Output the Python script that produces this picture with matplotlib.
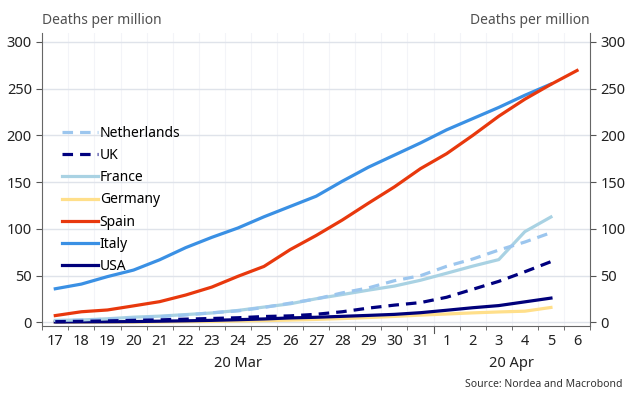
import matplotlib.pyplot as plt
import matplotlib.ticker as ticker
import matplotlib.transforms as transforms
import numpy as np

plt.rcParams['font.family'] = ['Noto Sans', 'DejaVu Sans']

days = ["17", "18", "19", "20", "21", "22", "23", "24", "25", "26", "27",
        "28", "29", "30", "31", "1", "2", "3", "4", "5", "6"]
months = ["20 Mar", "20 Apr"]

netherlands = [1.4, 2.5, 3.4, 4.4, 6.1, 7.9, 10.3, 12.3, 16, 20.6, 25.1,
               31.6, 36.9, 44.6, 50, 60, 67.8, 77.4, 86, 96]
uk = [0.8, 1.1, 1.6, 2.2, 2.7, 3.5, 4.2, 5.0, 6.3, 7.0, 8.7,
      11.4, 15.3, 18.5, 21.2, 26.9, 35.4, 43.9, 54.2, 65]
france = [2.2, 2.6, 3.9, 5.6, 6.7, 8.4, 10.1, 12.8, 16.4, 19.9, 25.3,
          29.8, 34.5, 38.9, 45.1, 52.6, 60.2, 67.2, 97.1, 112.8]
germany = [0.1, 0.2, 0.3, 0.3, 0.5, 0.8, 1.0, 1.5, 1.9, 2.5, 3.2,
           4.1, 5.2, 6.4, 7.8, 9.0, 10.2, 11.2, 12, 16]
spain = [7.3, 11.4, 13.3, 17.7, 22.2, 29.3, 37.8, 49.3, 59.9, 77.8, 93,
         109.5, 127.5, 145, 164.5, 180.5, 200, 220.6, 238.8, 254.7, 269.5]
italy = [36, 41, 49, 56, 67, 80, 91, 101, 113, 124, 135,
         151, 166, 179, 192, 206, 218, 230, 243, 255]
usa = [0.5, 0.6, 0.7, 0.9, 1.3, 1.7, 2.2, 2.9, 3.7, 4.8, 5.5,
       6.5, 7.5, 8.6, 10.4, 13, 15.7, 18, 22, 26]

fig = plt.figure(figsize=(6.4, 3.98), dpi=100)
ax = fig.add_axes([0.066, 0.181, 0.856, 0.737])

dash = (0, (3.3, 2.2))
lw = 2.3
x = np.arange(len(days))

lines = {}
lines['Germany'], = ax.plot(x[:len(germany)], germany, color='#ffdf8a', lw=lw)
lines['USA'], = ax.plot(x[:len(usa)], usa, color='#00007a', lw=lw)
lines['France'], = ax.plot(x[:len(france)], france, color='#a9d2e3', lw=lw)
lines['Netherlands'], = ax.plot(x[:len(netherlands)], netherlands,
                                color='#9cc6ee', lw=lw, linestyle=dash)
lines['UK'], = ax.plot(x[:len(uk)], uk, color='#00007f', lw=lw, linestyle=dash)
lines['Italy'], = ax.plot(x[:len(italy)], italy, color='#3a90e4', lw=lw)
lines['Spain'], = ax.plot(x[:len(spain)], spain, color='#e8380d', lw=lw)

order = ['Netherlands', 'UK', 'France', 'Germany', 'Spain', 'Italy', 'USA']
ax.legend([lines[k] for k in order], order, loc='upper left',
          bbox_to_anchor=(0.011, 0.73), frameon=False, fontsize=10,
          handlelength=2.6, handletextpad=0.1, labelspacing=0.52,
          borderaxespad=0.6)

ax.set_xlim(-0.5, len(days) - 0.5)
ax.set_ylim(-3.8, 310)
ax.yaxis.set_major_locator(ticker.MultipleLocator(50))
ax.grid(axis='y', color='#dfe3ea', lw=1)
ax.set_axisbelow(True)

ax.set_xticks(x)
ax.set_xticklabels(days)
ax.set_xticks(np.arange(-0.5, len(days), 1), minor=True)
ax.grid(axis='x', which='minor', color='#f3f4f8', lw=0.8)
ax.tick_params(axis='x', which='major', length=0, labelsize=10.5, pad=6,
               colors='#222222')
ax.tick_params(axis='x', which='minor', length=3, color='#555555')
ax.tick_params(axis='y', labelsize=10.5, length=4, right=True,
               labelright=True, color='#555555', labelcolor='#222222')

for side in ['left', 'right', 'bottom']:
    ax.spines[side].set_color('#666666')
ax.spines['top'].set_visible(False)

trans = transforms.blended_transform_factory(ax.transData, ax.transAxes)
ax.plot([14.5, 14.5], [0, -0.025], color='#555555', lw=0.8,
        transform=trans, clip_on=False)
ax.text(7, -0.128, months[0], transform=trans, ha='center', va='center',
        fontsize=10.5, color='#222222')
ax.text(17.5, -0.128, months[1], transform=trans, ha='center', va='center',
        fontsize=10.5, color='#222222')

fig.text(0.066, 0.948, "Deaths per million", ha='left', va='center',
         fontsize=10, color='#505050')
fig.text(0.922, 0.948, "Deaths per million", ha='right', va='center',
         fontsize=10, color='#505050')
fig.text(0.972, 0.035, "Source: Nordea and Macrobond", ha='right',
         va='center', fontsize=7.5, color='#333333')

fig.savefig("out.png", dpi=100)
